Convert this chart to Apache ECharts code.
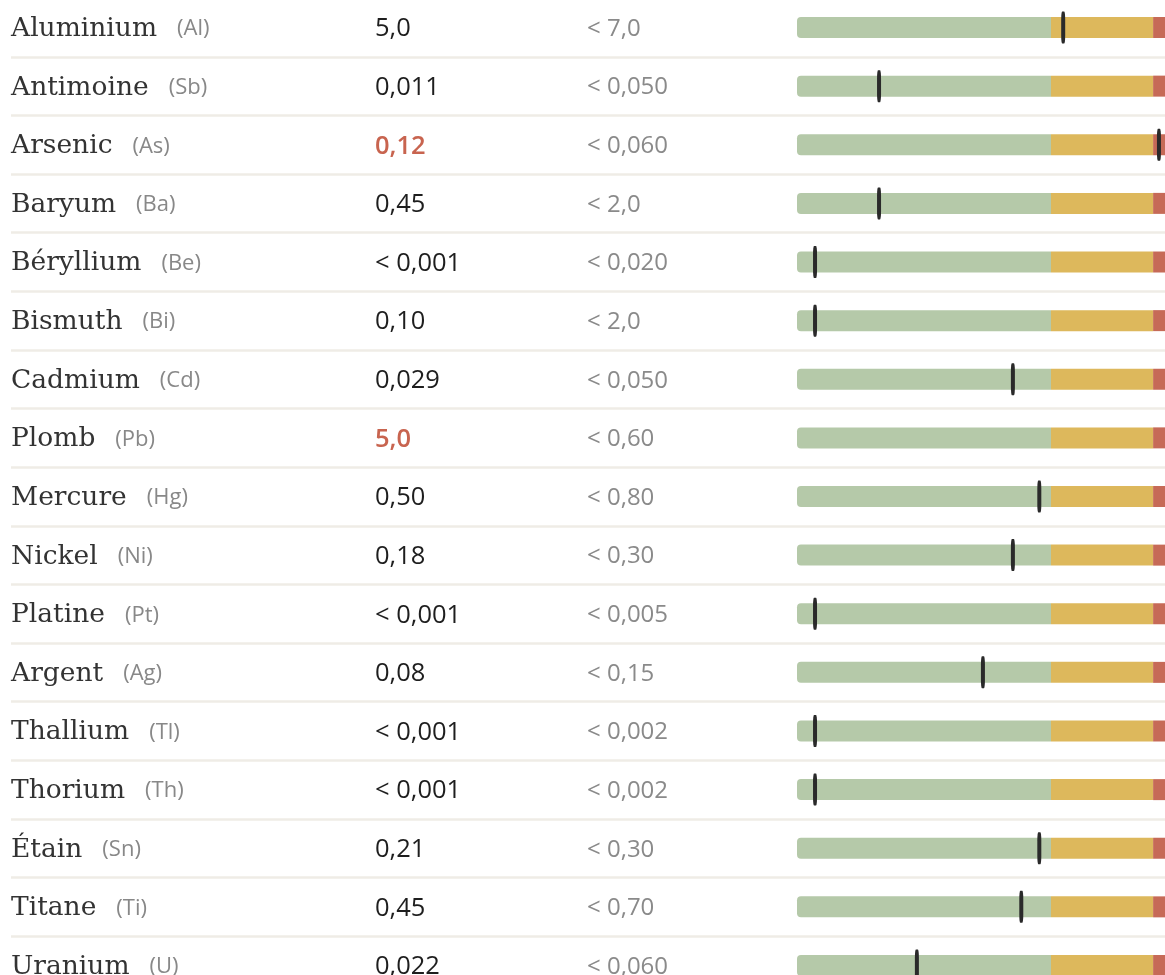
<!DOCTYPE html>
<html>
<head>
<meta charset="utf-8">
<script src="https://cdn.jsdelivr.net/npm/echarts@6/dist/echarts.min.js"></script>
<style>
html,body{margin:0;padding:0;background:#fff;}
#chart{width:1165px;height:975px;}
</style>
</head>
<body>
<div id="chart"></div>
<script>
// ---- data ----
const names = ['Aluminium','Antimoine','Arsenic','Baryum','Béryllium','Bismuth','Cadmium','Plomb','Mercure','Nickel','Platine','Argent','Thallium','Thorium','Étain','Titane','Uranium'];
const symbols = ['Al','Sb','As','Ba','Be','Bi','Cd','Pb','Hg','Ni','Pt','Ag','Tl','Th','Sn','Ti','U'];
const measuredText = ['5,0','0,011','0,12','0,45','< 0,001','0,10','0,029','5,0','0,50','0,18','< 0,001','0,08','< 0,001','< 0,001','0,21','0,45','0,022'];
const limitText = ['< 7,0','< 0,050','< 0,060','< 2,0','< 0,020','< 2,0','< 0,050','< 0,60','< 0,80','< 0,30','< 0,005','< 0,15','< 0,002','< 0,002','< 0,30','< 0,70','< 0,060'];
const measured = [5.0,0.011,0.12,0.45,0.001,0.10,0.029,5.0,0.50,0.18,0.001,0.08,0.001,0.001,0.21,0.45,0.022];
const limits = [7.0,0.050,0.060,2.0,0.020,2.0,0.050,0.60,0.80,0.30,0.005,0.15,0.002,0.002,0.30,0.70,0.060];
// marker position on the gauge scale (green zone = 0..100); null = off scale
const markerScore = [104.8,32.3,142.5,32.3,7.1,7.1,85.0,null,95.4,85.0,7.1,73.2,7.1,7.1,95.4,88.3,47.2];
// gauge zones (extent of each zone on the gauge scale)
const greenZone = 100;
const yellowZone = 40.2;
const redZone = 9.8;

const idx = names.map((_, i) => i);
const SEP = '#efece6';

const chart = echarts.init(document.getElementById('chart'), null, {renderer: 'canvas'});

const gridTop = -1.8, gridH = 996.6;

const option = {
  backgroundColor: '#ffffff',
  animation: false,
  grid: [
    {left: 11, top: gridTop, width: 1160, height: gridH, containLabel: false, outerBoundsMode: 'none'},
    {left: 797, top: gridTop, width: 381, height: gridH, containLabel: false, outerBoundsMode: 'none'}
  ],
  xAxis: [
    {gridIndex: 0, type: 'value', min: 0, max: 1, show: false},
    {gridIndex: 1, type: 'value', min: 0, max: greenZone + yellowZone + redZone, show: false}
  ],
  yAxis: [
    {gridIndex: 0, type: 'category', data: names, inverse: true,
      axisLine: {show: false}, axisTick: {show: false}, axisLabel: {show: false},
      splitLine: {show: true, lineStyle: {color: SEP, width: 2.5}}},
    {gridIndex: 1, type: 'category', data: names, inverse: true, show: false}
  ],
  series: [
    {
      type: 'custom', xAxisIndex: 0, yAxisIndex: 0,
      data: idx.map(i => [0, i]),
      encode: {x: 0, y: 1},
      renderItem: function (params, api) {
        const i = api.value(1);
        const p = api.coord([0, i]);
        const y = p[1] + 1.5;
        const over = measured[i] > limits[i];
        return {
          type: 'group',
          children: [
            {type: 'text', x: 11, y: y, style: {
              text: '{n|' + names[i] + '}{s|(' + symbols[i] + ')}',
              verticalAlign: 'middle', align: 'left',
              rich: {
                n: {fontFamily: 'DejaVu Serif', fontSize: 26.5, fill: '#333333', color: '#333333'},
                s: {fontFamily: 'Open Sans', fontSize: 22, fill: '#888888', color: '#888888', padding: [0, 0, 0, 20]}
              }
            }},
            {type: 'text', x: 375, y: y, style: {
              text: measuredText[i], verticalAlign: 'middle', align: 'left',
              fontFamily: 'Open Sans', fontSize: 25.5, fontWeight: over ? 600 : 500,
              fill: over ? '#c8644f' : '#1e1e1e'
            }},
            {type: 'text', x: 587, y: y, style: {
              text: limitText[i], verticalAlign: 'middle', align: 'left',
              fontFamily: 'Open Sans', fontSize: 24, fontWeight: 400,
              fill: '#8a8a8a'
            }}
          ]
        };
      },
      z: 5
    },
    {
      type: 'bar', xAxisIndex: 1, yAxisIndex: 1, stack: 'g', barWidth: 21,
      data: idx.map(() => greenZone),
      itemStyle: {color: '#b5c9a9', borderRadius: [4, 0, 0, 4]},
      silent: true
    },
    {
      type: 'bar', xAxisIndex: 1, yAxisIndex: 1, stack: 'g', barWidth: 21,
      data: idx.map(() => yellowZone),
      itemStyle: {color: '#ddb85c'},
      silent: true
    },
    {
      type: 'bar', xAxisIndex: 1, yAxisIndex: 1, stack: 'g', barWidth: 21,
      data: idx.map(() => redZone),
      itemStyle: {color: '#c66a57'},
      silent: true
    },
    {
      type: 'scatter', xAxisIndex: 1, yAxisIndex: 1,
      data: idx.map(i => markerScore[i] == null ? '-' : [markerScore[i], i]),
      symbol: 'roundRect', symbolSize: [4, 32],
      itemStyle: {color: '#2a2a2a', opacity: 1},
      z: 10, silent: true
    }
  ]
};
chart.setOption(option);
</script>
</body>
</html>
